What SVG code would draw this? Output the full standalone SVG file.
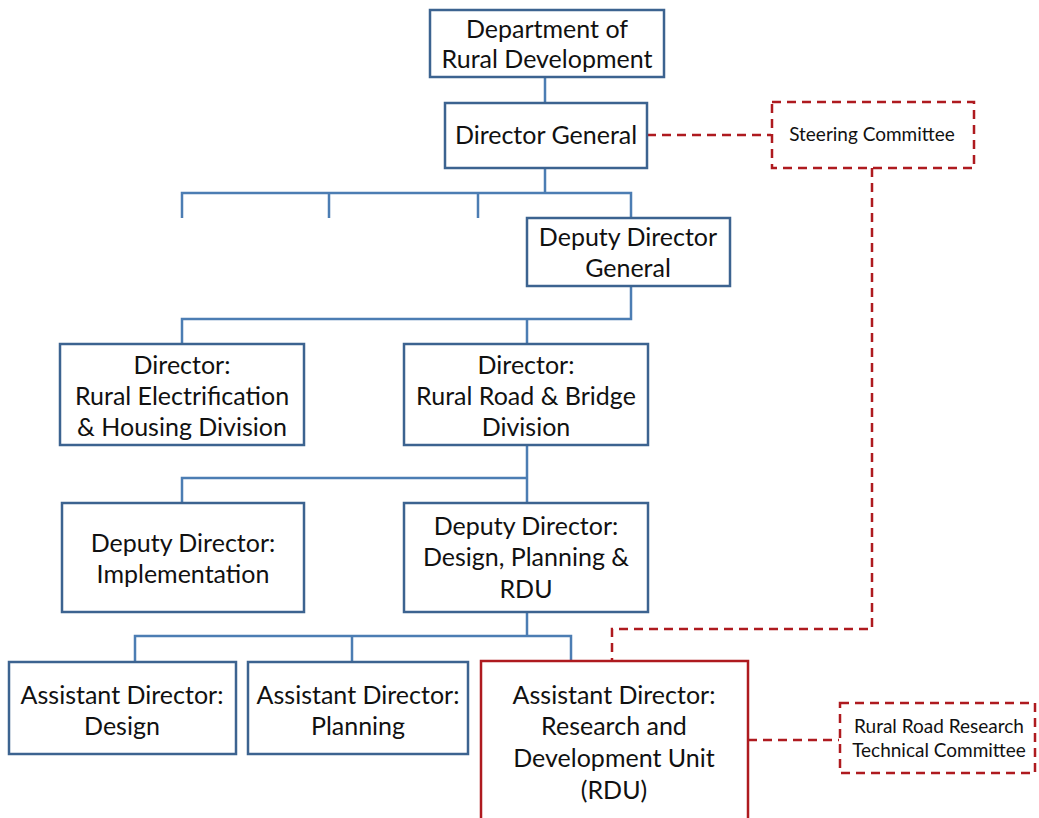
<svg xmlns="http://www.w3.org/2000/svg" width="1039" height="818" viewBox="0 0 1039 818">
<style>
.box{fill:#fff;stroke:#3C6390;stroke-width:2.5}
.rbox{fill:#fff;stroke:#AE1A1F;stroke-width:2.5}
.dbox{fill:#fff;stroke:#AE1A1F;stroke-width:2.5;stroke-dasharray:9 6}
.ln{fill:none;stroke:#4C7DB3;stroke-width:2.5}
.dl{fill:none;stroke:#AE1A1F;stroke-width:2.5;stroke-dasharray:9 6}
text{font-family:Lato,"Open Sans","Liberation Sans",sans-serif;font-size:25px;fill:#111;text-anchor:middle}
.s{font-size:19px}
</style>
<g id="connectors">
<path class="ln" d="M545 77V103M545 168V193M182 218V193H631V218M329 193V218M478 193V218"/>
<path class="ln" d="M631 286V319H182V344M527 319V344"/>
<path class="ln" d="M527 445V478H182V503M527 478V503"/>
<path class="ln" d="M527 612V636M571 661V636H135V661M352 636V661"/>
<path class="dl" d="M647 135H771"/>
<path class="dl" d="M872 168V629H612V661"/>
<path class="dl" d="M748 740H839"/>
</g>
<g id="dept"><rect class="box" x="430" y="10" width="234" height="67"/><text x="547" y="38">Department of</text><text x="547" y="68">Rural Development</text></g>
<g id="dg"><rect class="box" x="445" y="103" width="202" height="65"/><text x="546" y="144">Director General</text></g>
<g id="steering"><rect class="dbox" x="772" y="102" width="202" height="66"/><text class="s" x="872" y="141">Steering Committee</text></g>
<g id="ddg"><rect class="box" x="527" y="218" width="203" height="68"/><text x="628" y="246">Deputy Director</text><text x="628" y="277">General</text></g>
<g id="dreh"><rect class="box" x="60" y="344" width="244" height="101"/><text x="182" y="374">Director:</text><text x="182" y="405">Rural Electrification</text><text x="182" y="436">&amp; Housing Division</text></g>
<g id="drrb"><rect class="box" x="404" y="344" width="244" height="101"/><text x="526" y="374">Director:</text><text x="526" y="405">Rural Road &amp; Bridge</text><text x="526" y="436">Division</text></g>
<g id="ddimpl"><rect class="box" x="62" y="503" width="242" height="109"/><text x="183" y="552">Deputy Director:</text><text x="183" y="583">Implementation</text></g>
<g id="dddpr"><rect class="box" x="404" y="503" width="244" height="109"/><text x="526" y="535">Deputy Director:</text><text x="526" y="566">Design, Planning &amp;</text><text x="526" y="598">RDU</text></g>
<g id="adesign"><rect class="box" x="9" y="662" width="227" height="92"/><text x="122" y="704">Assistant Director:</text><text x="122" y="735">Design</text></g>
<g id="aplanning"><rect class="box" x="248" y="662" width="220" height="92"/><text x="358" y="704">Assistant Director:</text><text x="358" y="735">Planning</text></g>
<g id="ardu"><rect class="rbox" x="481" y="661" width="267" height="170"/><text x="614" y="704">Assistant Director:</text><text x="614" y="735">Research and</text><text x="614" y="767">Development Unit</text><text x="614" y="799">(RDU)</text></g>
<g id="rrrtc"><rect class="dbox" x="840" y="703" width="195" height="70"/><text class="s" x="939" y="733">Rural Road Research</text><text class="s" x="939" y="757">Technical Committee</text></g>
</svg>
